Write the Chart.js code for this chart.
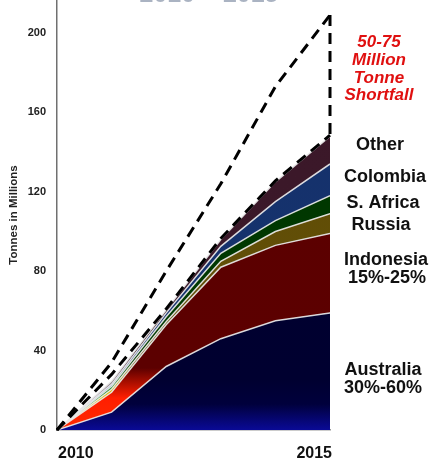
<!DOCTYPE html>
<html>
<head>
<meta charset="utf-8">
<script src="https://cdn.jsdelivr.net/npm/chart.js@4/dist/chart.umd.min.js"></script>
<style>
  html, body { margin: 0; padding: 0; background: #fff; }
  #wrap { width: 430px; height: 459px; }
</style>
</head>
<body>
<div id="wrap"><canvas id="c" width="430" height="459"></canvas></div>
<script>
// Seaborne coal supply growth by origin, million tonnes
const years = [2010, 2011, 2012, 2013, 2014, 2015];
const australia   = [0, 9, 32, 46, 55, 59];
const indonesia   = [0, 10, 21, 36, 38, 40];
const russia      = [0, 1.5, 1.5, 3, 7, 10];
const southAfrica = [0, 1.5, 2.5, 4, 5.5, 9];
const colombia    = [0, 1, 2, 3.5, 9.5, 16];
const other       = [0, 1.5, 1.5, 3.5, 10, 14];
// demand growth and available supply (dashed)
const demand = [0, 34, 80, 124, 173, 209];
const supply = [0, 28, 61, 96.5, 125.5, 148.5];

const yTicks = [0, 40, 80, 120, 160, 200];
const xTickLabels = ['2010', '2015'];
const seriesNames = ['Australia', 'Indonesia', 'Russia', 'S. Africa', 'Colombia', 'Other'];
const shortfallText = ['50-75', 'Million', 'Tonne', 'Shortfall'];

// running totals for the stacked bands
const layers = [australia, indonesia, russia, southAfrica, colombia, other];
let running = years.map(() => 0);
const cumulative = layers.map(arr => (running = running.map((v, i) => v + arr[i])));

// vertical gradient helper: stops given as [canvasY, colour]
function bandGradient(stops) {
  return (ctx) => {
    const chart = ctx.chart;
    const area = chart.chartArea;
    if (!area) return stops[stops.length - 1][1];
    const g = chart.ctx.createLinearGradient(0, area.bottom, 0, area.top);
    const h = area.bottom - area.top;
    stops.forEach(([y, col]) => {
      const f = Math.min(1, Math.max(0, (area.bottom - y) / h));
      g.addColorStop(f, col);
    });
    return g;
  };
}

const bandFills = [
  bandGradient([[430, '#0a0a96'], [404, '#00003c'], [380, '#000030'], [0, '#00002c']]),
  bandGradient([[430, '#ff2a00'], [398, '#ff1e00'], [368, '#5c0000'], [0, '#5a0000']]),
  bandGradient([[430, '#f0d000'], [392, '#d8b800'], [360, '#63500a'], [0, '#5e4a00']]),
  bandGradient([[430, '#50b050'], [390, '#2f8f2f'], [360, '#003a00'], [0, '#003300']]),
  bandGradient([[430, '#7fa6e6'], [388, '#5a84d0'], [355, '#16336e'], [0, '#14306a']]),
  bandGradient([[430, '#c8c0c8'], [386, '#8a7a86'], [350, '#3c1a2a'], [0, '#3a1628']])
];

const datasets = layers.map((arr, k) => ({
  label: seriesNames[k],
  data: years.map((x, i) => ({ x, y: cumulative[k][i] })),
  fill: k === 0 ? 'origin' : '-1',
  backgroundColor: bandFills[k],
  borderColor: 'rgba(235,235,235,0.9)',
  borderWidth: 1.5,
  pointRadius: 0,
  tension: 0,
  order: 2
}));

const dashStyle = {
  fill: false,
  borderColor: '#000',
  borderWidth: 3,
  borderDash: [11, 7],
  pointRadius: 0,
  tension: 0,
  clip: 6,
  order: 0
};

datasets.push(Object.assign({}, dashStyle, {
  label: 'Supply',
  data: years.map((x, i) => ({ x, y: supply[i] }))
}));
datasets.push(Object.assign({}, dashStyle, {
  label: 'Demand',
  data: years.map((x, i) => ({ x, y: demand[i] }))
}));
const last = years.length - 1;
datasets.push(Object.assign({}, dashStyle, {
  label: 'Shortfall',
  data: [{ x: years[last], y: demand[last] }, { x: years[last], y: supply[last] }]
}));

// text drawn around the plot: heading, year labels, band names, shortfall note
const annotations = {
  id: 'annotations',
  afterDraw(chart) {
    const c = chart.ctx;
    const xs = chart.scales.x;
    c.save();

    c.fillStyle = '#aab3c2';
    c.font = 'bold 25px "Liberation Sans", Arial, sans-serif';
    c.textAlign = 'center';
    c.textBaseline = 'alphabetic';
    c.fillText('2010 \u2013 2015', 209, 1.5);

    c.fillStyle = '#111';
    c.font = 'bold 16px "Liberation Sans", Arial, sans-serif';
    c.textAlign = 'left';
    c.fillText(xTickLabels[0], xs.getPixelForValue(years[0]) + 1, 458);
    c.textAlign = 'right';
    c.fillText(xTickLabels[1], xs.getPixelForValue(years[last]) + 2, 458);

    c.fillStyle = '#e01010';
    c.font = 'italic bold 17px "Liberation Sans", Arial, sans-serif';
    c.textAlign = 'center';
    const sb = [47, 65, 83, 100];
    shortfallText.forEach((t, i) => c.fillText(t, 379, sb[i]));

    c.fillStyle = '#111';
    c.font = 'bold 18px "Liberation Sans", Arial, sans-serif';
    const labels = [
      ['Other', 380, 150],
      ['Colombia', 385, 182],
      ['S. Africa', 383, 208],
      ['Russia', 381, 230],
      ['Indonesia', 386, 265],
      ['15%-25%', 387, 283],
      ['Australia', 383, 375],
      ['30%-60%', 383, 393]
    ];
    labels.forEach(([t, x, y]) => c.fillText(t, x, y));
    c.restore();
  }
};

new Chart(document.getElementById('c'), {
  type: 'line',
  data: { datasets },
  options: {
    responsive: false,
    animation: false,
    layout: { padding: { left: 0, right: 100, top: 0, bottom: 29 } },
    plugins: { legend: { display: false }, tooltip: { enabled: false } },
    scales: {
      x: {
        type: 'linear',
        min: years[0],
        max: years[last],
        ticks: { display: false },
        grid: { display: false, drawTicks: false },
        border: { display: true, color: '#9a9a9a', width: 1.5 }
      },
      y: {
        min: 0,
        max: 216.6,
        afterFit(scale) {
          scale.width = 57;
          scale.paddingTop = 0;
          scale.paddingBottom = 0;
        },
        afterBuildTicks(scale) { scale.ticks = yTicks.map(v => ({ value: v })); },
        ticks: {
          padding: 11,
          color: '#222',
          font: { family: '"Liberation Sans", Arial, sans-serif', size: 11, weight: 'bold' },
          callback: (v) => String(v)
        },
        grid: { display: false, drawTicks: false },
        border: { display: true, color: '#707070', width: 1.5 },
        title: {
          display: true,
          text: 'Tonnes in Millions',
          color: '#222',
          font: { family: '"Liberation Sans", Arial, sans-serif', size: 11.5, weight: 'bold' },
          padding: { top: 7, bottom: 0 }
        }
      }
    }
  },
  plugins: [annotations]
});
</script>
</body>
</html>
